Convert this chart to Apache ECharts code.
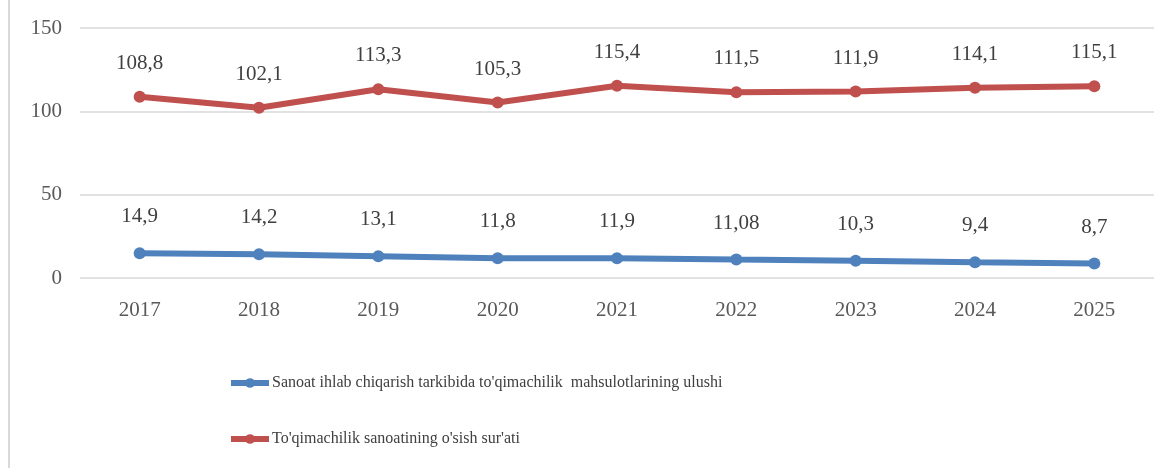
<!DOCTYPE html>
<html>
<head>
<meta charset="utf-8">
<script src="https://cdn.jsdelivr.net/npm/echarts@6/dist/echarts.min.js"></script>
<style>
  html, body { margin: 0; padding: 0; background: #fff; }
  #chart { width: 1154px; height: 468px; }
  /* thin frame line on the left edge */
  .frame { position: absolute; left: 8px; top: 0; width: 2px; height: 468px; background: #d9d9d9; }
</style>
</head>
<body>
<div class="frame"></div>
<div id="chart"></div>
<script>
// data
var years = ['2017', '2018', '2019', '2020', '2021', '2022', '2023', '2024', '2025'];
var shareValues = [14.9, 14.2, 13.1, 11.8, 11.9, 11.08, 10.3, 9.4, 8.7];
var growthValues = [108.8, 102.1, 113.3, 105.3, 115.4, 111.5, 111.9, 114.1, 115.1];
var shareName = "Sanoat ihlab chiqarish tarkibida to'qimachilik  mahsulotlarining ulushi";
var growthName = "To'qimachilik sanoatining o'sish sur'ati";

var font = 'Liberation Serif';

// 108.8 -> "108,8"
var commaLabel = function (p) {
  return String(p.value).replace('.', ',');
};

var chart = echarts.init(document.getElementById('chart'));
var option = {
  animation: false,
  grid: {
    left: 80,
    right: -10,
    top: 28,
    height: 250
  },
  legend: {
    orient: 'vertical',
    left: 223,
    top: 370,
    itemWidth: 38,
    itemHeight: 12,
    itemGap: 40,
    lineStyle: { width: 6 },
    textStyle: { fontFamily: font, fontSize: 16, color: '#404040', padding: [0, 0, 0, -2] },
    data: [shareName, growthName]
  },
  xAxis: {
    type: 'category',
    data: years,
    axisLine: { show: false },
    axisTick: { show: false },
    axisLabel: { fontFamily: font, fontSize: 21, color: '#595959', margin: 22 }
  },
  yAxis: {
    type: 'value',
    min: 0,
    max: 150,
    interval: 50,
    axisLabel: { fontFamily: font, fontSize: 21, color: '#595959', margin: 18 },
    splitLine: { lineStyle: { color: '#d9d9d9', width: 1.5 } }
  },
  series: [
    {
      name: shareName,
      type: 'line',
      data: shareValues,
      symbol: 'circle',
      symbolSize: 12,
      lineStyle: { width: 6, color: '#4F81BD' },
      itemStyle: { color: '#4F81BD' },
      label: {
        show: true,
        position: 'top',
        distance: 20,
        fontFamily: font,
        fontSize: 21,
        color: '#404040',
        formatter: commaLabel
      }
    },
    {
      name: growthName,
      type: 'line',
      data: growthValues,
      symbol: 'circle',
      symbolSize: 12,
      lineStyle: { width: 6, color: '#C0504D' },
      itemStyle: { color: '#C0504D' },
      label: {
        show: true,
        position: 'top',
        distance: 17,
        fontFamily: font,
        fontSize: 21,
        color: '#404040',
        formatter: commaLabel
      }
    }
  ]
};
chart.setOption(option);
</script>
</body>
</html>
